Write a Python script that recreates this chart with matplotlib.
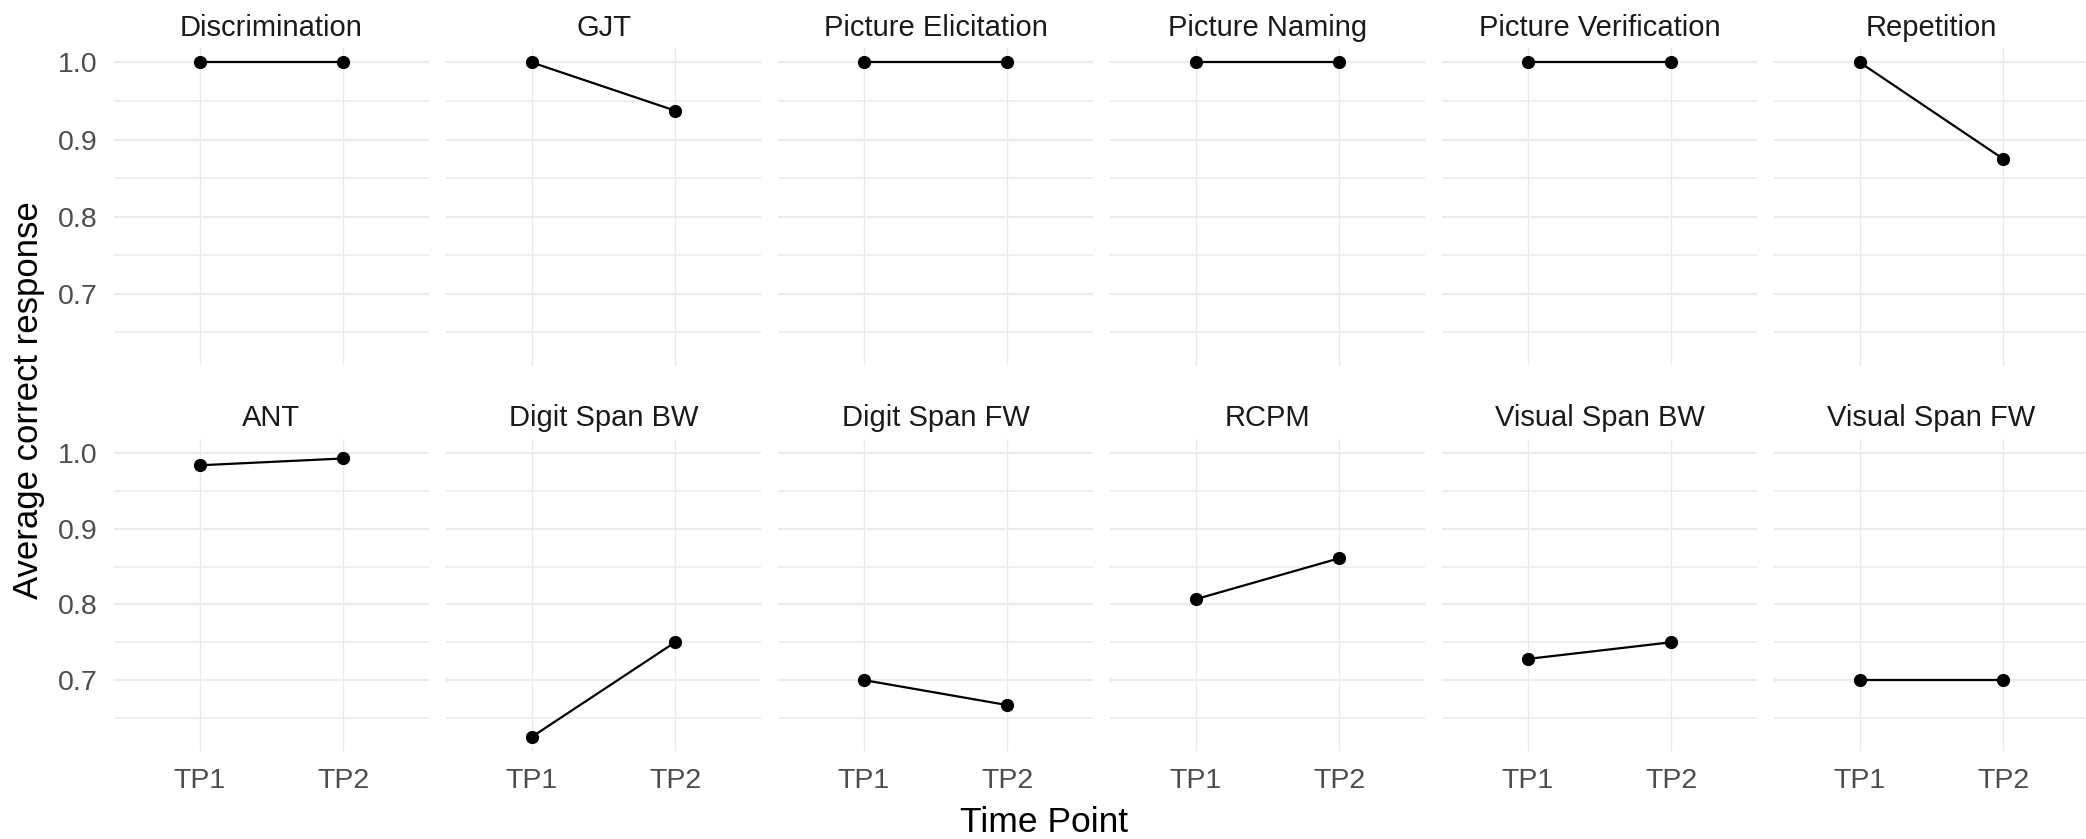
import matplotlib

matplotlib.use("Agg")
import matplotlib.pyplot as plt
from matplotlib.ticker import MultipleLocator

plt.rcParams["font.family"] = ["Liberation Sans", "DejaVu Sans"]

# data
tasks = [
    "Discrimination", "GJT", "Picture Elicitation", "Picture Naming",
    "Picture Verification", "Repetition",
    "ANT", "Digit Span BW", "Digit Span FW", "RCPM",
    "Visual Span BW", "Visual Span FW",
]
time_points = ["TP1", "TP2"]
tp1 = [1.0, 1.0, 1.0, 1.0, 1.0, 1.0,
       0.984, 0.625, 0.700, 0.807, 0.728, 0.700]
tp2 = [1.0, 0.9375, 1.0, 1.0, 1.0, 0.875,
       0.993, 0.750, 0.667, 0.861, 0.750, 0.700]
y_ticks = [0.7, 0.8, 0.9, 1.0]

W, H = 2086, 839
fig = plt.figure(figsize=(W / 100, H / 100), dpi=100)

# panel geometry in pixels
left0, pw, step = 114, 315, 332
rows = [(48, 366), (439, 751)]

lo = min(tp1 + tp2)
hi = max(tp1 + tp2)
pad = (hi - lo) * 0.05
grid_c = "#EBEBEB"

for i, task in enumerate(tasks):
    r, c = divmod(i, 6)
    top, bot = rows[r]
    x0 = left0 + c * step
    ax = fig.add_axes([x0 / W, 1 - bot / H, pw / W, (bot - top) / H])
    ax.set_xlim(-0.6, 1.6)
    ax.set_ylim(lo - pad, hi + pad)
    ax.yaxis.set_minor_locator(MultipleLocator(0.05))
    ax.set_yticks(y_ticks)
    ax.set_xticks(range(len(time_points)))
    ax.grid(True, which="major", axis="y", color=grid_c, linewidth=1.6)
    ax.grid(True, which="minor", axis="y", color=grid_c, linewidth=1.1)
    ax.grid(True, which="major", axis="x", color=grid_c, linewidth=1.0)
    ax.set_axisbelow(True)
    for s in ax.spines.values():
        s.set_visible(False)
    ax.tick_params(which="both", length=0, labelsize=20.5, colors="#4D4D4D", pad=12)
    if r == 0:
        ax.set_xticklabels([])
    else:
        ax.set_xticklabels(time_points)
    if c != 0:
        ax.set_yticklabels([])
    ax.plot(range(len(time_points)), [tp1[i], tp2[i]], color="black",
            linewidth=1.6, marker="o", markersize=8.5, zorder=3)
    ax.set_title(task, fontsize=21, color="#1A1A1A", pad=9)

fig.text(29 / W, 1 - 400 / H, "Average correct response", rotation=90,
         ha="center", va="center", fontsize=25)
fig.text((left0 + (5 * step + pw)) / 2 / W, 1 - 822 / H, "Time Point",
         ha="center", va="center", fontsize=25.5)

fig.savefig("out.png", dpi=100)
